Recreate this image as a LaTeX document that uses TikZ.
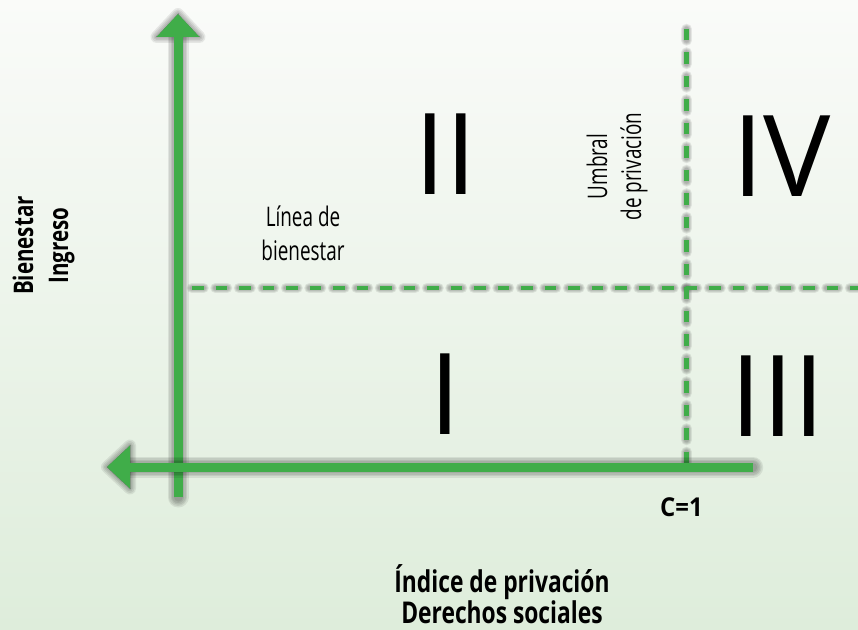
\documentclass[tikz,border=0pt]{standalone}
\usepackage{fontspec}
\setmainfont{Open Sans}
\newfontfamily\lblfont[FakeStretch=0.70]{Open Sans}
\newfontfamily\lblbold[FakeStretch=0.76]{Open Sans}
\newfontfamily\cfont[FakeStretch=0.92]{Open Sans}
\definecolor{axisgreen}{RGB}{64,173,73}
\definecolor{bgtop}{RGB}{250,251,249}
\definecolor{bgbot}{RGB}{222,237,219}
\tikzset{
  axisline/.style={draw=axisgreen, line width=9pt},
  axishead/.style={fill=axisgreen},
  dashline/.style={draw=axisgreen, line width=4.5pt, dash pattern=on 11.5pt off 12pt},
  shadowline/.style={black, draw opacity=0.08, line cap=round},
  shadowhead/.style={black, opacity=0.08, line join=round},
  numeral/.style={font=\fontsize{113}{113}\selectfont, inner sep=0pt, anchor=base},
  lbl/.style={font=\lblfont\fontsize{27}{34}\selectfont, inner sep=0pt, align=center},
  boldlbl/.style={font=\lblbold\bfseries\fontsize{30}{28}\selectfont, inner sep=0pt, align=center},
}
\begin{document}
\begin{tikzpicture}[x=1pt,y=1pt]
\useasboundingbox (0,0) rectangle (858,629);
\shade[top color=bgtop, bottom color=bgbot] (0,0) rectangle (858,629);

% coordinates
\coordinate (vbot) at (178,132);
\coordinate (vbase) at (178,593);
\coordinate (vtip) at (178,615);
\coordinate (vl) at (156.5,592);
\coordinate (vr) at (199.5,592);
\coordinate (hright) at (752.7,162);
\coordinate (hbase) at (129,162);
\coordinate (htip) at (107,162);
\coordinate (hu) at (130,183.5);
\coordinate (hd) at (130,140.5);
\coordinate (dvtop) at (686.7,600);
\coordinate (dvbot) at (686.7,162);
\coordinate (dhl) at (182,341);
\coordinate (dhr) at (858,341);

% vertical axis with shadow
\begin{scope}[shift={(7,-8)}]
  \foreach \w in {0,3,6,9,12}{
    \draw[shadowline, line width=9+\w] (vbot) -- (vbase);
    \filldraw[shadowhead, line width=\w] (vl) -- (vr) -- (vtip) -- cycle;
  }
\end{scope}
\draw[axisline] (vbot) -- (vbase);
\fill[axishead] (vl) -- (vr) -- (vtip) -- cycle;

% dashed lines with shadows
\begin{scope}[shift={(7,-8)}]
  \foreach \w in {0,2,4,6}{
    \draw[shadowline, line width=4.5+\w, dash pattern=on 11.5pt off 12pt] (dvtop) -- (dvbot);
    \draw[shadowline, line width=4.5+\w, dash pattern=on 11.5pt off 12pt, dash phase=13.5pt] (dhl) -- (dhr);
  }
\end{scope}
\draw[dashline] (dvtop) -- (dvbot);
\draw[dashline, dash phase=13.5pt] (dhl) -- (dhr);

% horizontal axis with shadow
\begin{scope}[shift={(7,-8)}]
  \foreach \w in {0,3,6,9,12}{
    \draw[shadowline, line width=9+\w] (hright) -- (hbase);
    \filldraw[shadowhead, line width=\w] (hu) -- (hd) -- (htip) -- cycle;
  }
\end{scope}
\draw[axisline] (hright) -- (hbase);
\fill[axishead] (hu) -- (hd) -- (htip) -- cycle;

% quadrant numerals
\node[numeral] (qII) at (445.5,434.3) {II};
\node[numeral] (qI) at (445.5,194) {I};
\node[numeral] (qIII) at (778,192) {III};
\node[numeral] (qIV) at (781.5,432) {IV};

% labels
\node[lbl, anchor=south] (linea) at (303,368) {Línea de\\bienestar};
\node[lbl, rotate=90] (umbral) at (617,462.5) {Umbral\\de privación};
\node[boldlbl, rotate=90, font=\lblbold\bfseries\fontsize{27}{35}\selectfont] (yaxis) at (43.5,383.5) {Bienestar\\Ingreso};
\node[boldlbl, anchor=south] (xaxis) at (502,5) {Índice de privación\\Derechos sociales};
\node[inner sep=0pt, anchor=base, font=\cfont\bfseries\fontsize{26}{26}\selectfont] (c1) at (681.5,112.3) {C=1};
\end{tikzpicture}
\end{document}
